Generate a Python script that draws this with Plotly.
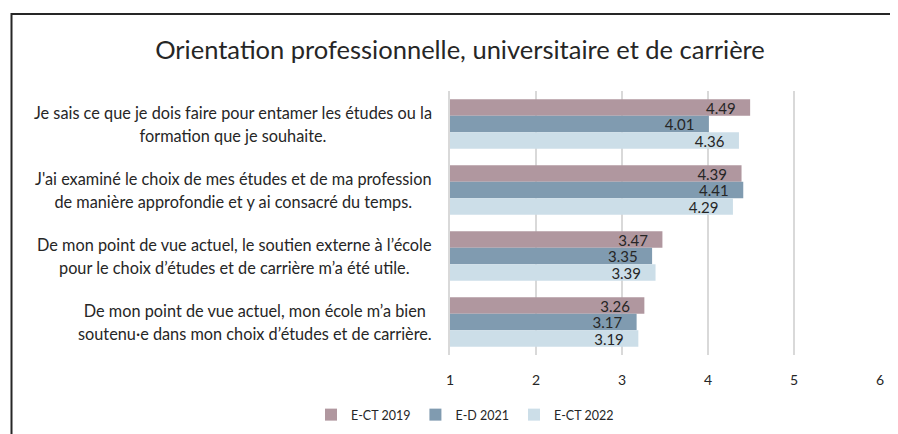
import plotly.graph_objects as go

# ---- data ----
title_text = "Orientation professionnelle, universitaire et de carrière"
category_lines = [
    ["Je sais ce que je dois faire pour entamer les études ou la", "formation que je souhaite."],
    ["J'ai examiné le choix de mes études et de ma profession", "de manière approfondie et y ai consacré du temps."],
    ["De mon point de vue actuel, le soutien externe à l’école", "pour le choix d’études et de carrière m’a été utile."],
    ["De mon point de vue actuel, mon école m’a bien", "soutenu·e dans mon choix d’études et de carrière."],
]
series_names = ["E-CT 2019", "E-D 2021", "E-CT 2022"]
ect_2019 = [4.49, 4.39, 3.47, 3.26]
ed_2021 = [4.01, 4.41, 3.35, 3.17]
ect_2022 = [4.36, 4.29, 3.39, 3.19]
x_ticks = [1, 2, 3, 4, 5, 6]

# ---- style ----
colors = ["#B0979F", "#809BB0", "#CCDEE8"]
FONT = "Lato"
TXT = "#262626"

categories = [" ".join(l) for l in category_lines]
series_values = [ect_2019, ed_2021, ect_2022]

fig = go.Figure()
for name, vals, col in zip(series_names, series_values, colors):
    fig.add_trace(go.Bar(
        y=categories, x=vals, name=name, orientation="h",
        marker=dict(color=col, line=dict(width=0)),
        text=[f"{v:.2f}\u00a0\u00a0\u00a0" for v in vals],
        textposition="inside", insidetextanchor="end",
        constraintext="none",
        textfont=dict(family=FONT, size=15, color=TXT),
        hoverinfo="skip",
    ))

for cat, lines in zip(categories, category_lines):
    txt = "<br>".join(f'<span style="font-size:16.3px">{ln}</span>' for ln in lines)
    fig.add_annotation(
        x=0, xref="paper", y=cat, yref="y", text=txt,
        xanchor="right", yanchor="middle", align="center", xshift=-16,
        showarrow=False, font=dict(family=FONT, size=17.7, color=TXT),
    )

# page body has an 8px margin: figure is sized to fit the 898x434 window
W, H = 890, 426
L, R, T, B = 442, 18, 83, 79
pw, ph = W - L - R, H - T - B

fig.add_shape(
    type="rect", xref="paper", yref="paper",
    x0=(3.5 - L) / pw, x1=(W + 20 - L) / pw,
    y0=-(B + 20) / ph, y1=((H - B) - 6) / ph,
    line=dict(color="#262626", width=2), fillcolor="rgba(0,0,0,0)", layer="above",
)

fig.update_layout(
    width=W, height=H,
    margin=dict(l=L, r=R, t=T, b=B),
    paper_bgcolor="white", plot_bgcolor="white",
    barmode="group", bargap=0.25, bargroupgap=0,
    title=dict(text=title_text, x=452 / W, xanchor="center", y=1 - 42 / H, yanchor="middle",
               font=dict(family=FONT, size=25.5, color=TXT)),
    font=dict(family=FONT, size=14, color=TXT),
    xaxis=dict(range=[1, 6], tickvals=x_ticks, showgrid=True, gridcolor="#D9D9D9", gridwidth=1.5,
               zeroline=False, showline=False, ticks="outside", ticklen=12, tickcolor="rgba(0,0,0,0)",
               tickfont=dict(family=FONT, size=14, color=TXT), fixedrange=True),
    yaxis=dict(autorange="reversed", showticklabels=False, showgrid=False, zeroline=False,
               showline=True, linecolor="#D9D9D9", linewidth=1.5, fixedrange=True),
    legend=dict(orientation="h", x=457 / W, xref="container", xanchor="center",
                y=1 - 407 / H, yref="container", yanchor="middle",
                font=dict(family=FONT, size=12.5, color=TXT), traceorder="normal"),
    showlegend=True,
)

fig.write_html("out.html")
